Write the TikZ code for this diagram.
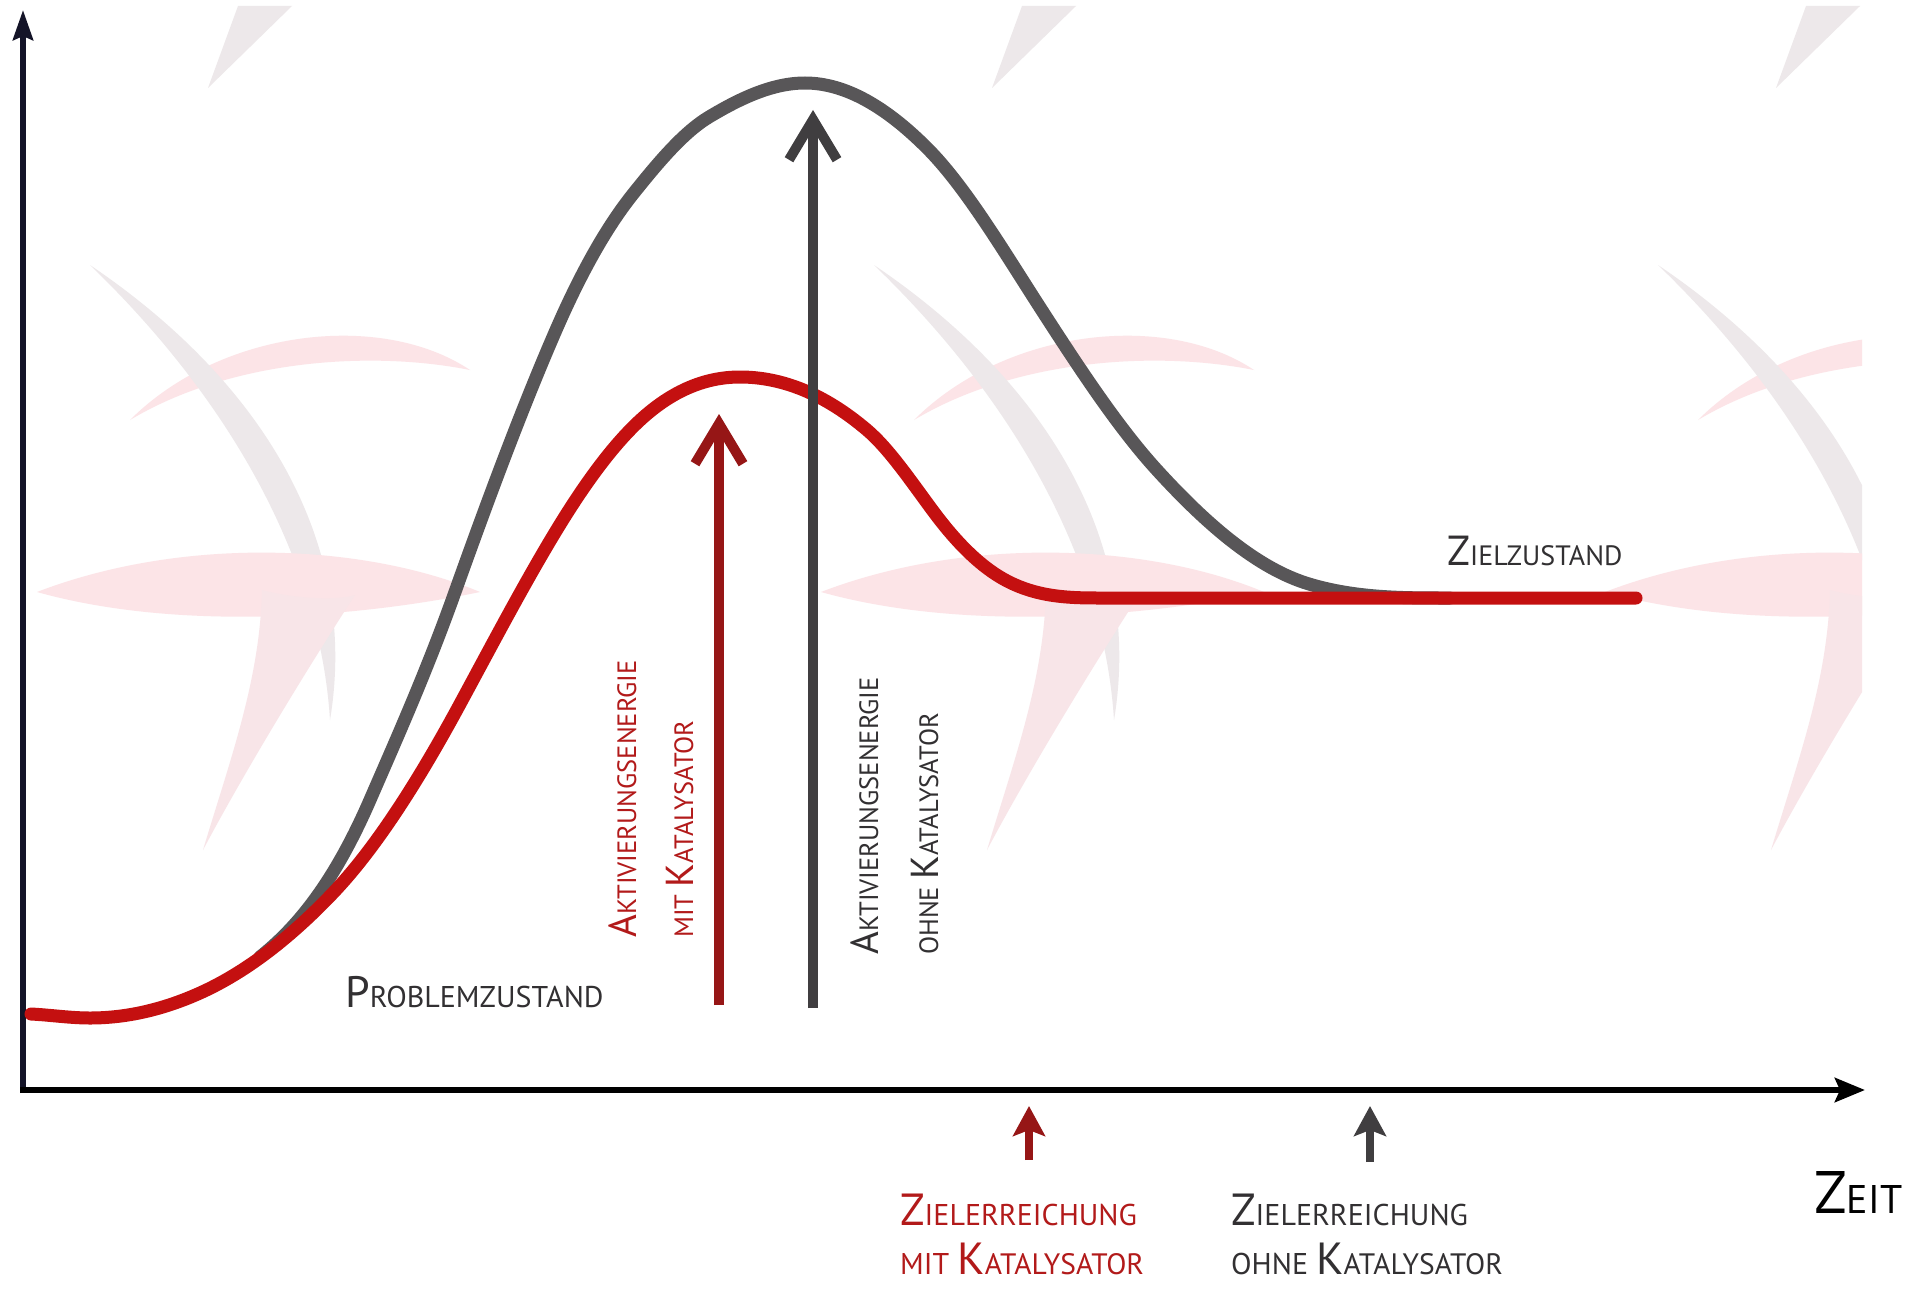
\documentclass[tikz,border=0pt]{standalone}
\usepackage{fontspec}
\setmainfont{PT Sans}
\usetikzlibrary{arrows.meta}
\definecolor{cRed}{RGB}{196,16,16}
\definecolor{cRedDark}{RGB}{150,22,22}
\definecolor{cRedText}{RGB}{178,26,26}
\definecolor{cGrey}{RGB}{88,86,88}
\definecolor{cGreyDark}{RGB}{64,62,64}
\definecolor{cText}{RGB}{50,48,50}
\definecolor{cAxisY}{RGB}{20,20,40}
\definecolor{wmPink}{RGB}{252,228,231}
\definecolor{wmGrey}{RGB}{237,232,234}
\newcommand{\mySC}[4]{{\fontsize{#1}{#1}\selectfont #3}{\fontsize{#2}{#2}\selectfont #4}}
\newcommand{\wmTile}{%
  \fill[wmGrey] (208,88) -- (238,6) -- (292,6) -- cycle;
  \fill[wmPink] (130,420) .. controls (220,330) and (380,310) .. (470,370) .. controls (370,350) and (230,360) .. (130,420) -- cycle;
  \fill[wmGrey] (90,265) .. controls (260,380) and (360,540) .. (330,720) .. controls (320,560) and (230,400) .. (90,265) -- cycle;
  \fill[wmPink] (37,592) .. controls (180,537) and (360,542) .. (480,592) .. controls (360,617) and (180,632) .. (37,592) -- cycle;
  \fill[wmPink!70!wmGrey] (262,590) .. controls (300,600) and (340,600) .. (355,595) .. controls (300,680) and (240,780) .. (203,850) .. controls (230,760) and (260,680) .. (262,590) -- cycle;
}
\begin{document}
\begin{tikzpicture}[x=1pt,y=-1pt,
  lbl/.style={inner sep=0pt, anchor=base west},
  vlbl/.style={inner sep=0pt, anchor=base west, rotate=90},
  curve/.style={line width=13pt, line cap=round, line join=round},
  bigarrow/.style={line width=10pt, -{Straight Barb[length=40pt,width=48pt]}},
  smallarrow/.style={line width=8pt, -{Stealth[length=30pt,width=32pt,inset=6pt]}}]
\useasboundingbox (0,0) rectangle (1921,1295);
\fill[white] (0,0) rectangle (1921,1295);
% faint background watermark
\begin{scope}
\clip (0,0) rectangle (1862,1295);
\foreach \k in {0,1,2} {
  \begin{scope}[shift={(784*\k,0)}]
    \wmTile
  \end{scope}
}
\end{scope}
% axes
\coordinate (Ytop) at (23,10);
\coordinate (Xend) at (1865,1090);
\coordinate (Ybot) at (23,1093);
\coordinate (Xbeg) at (20,1090);
\draw[line width=6pt, cAxisY, -{Stealth[length=30pt,width=20pt,inset=4pt]}] (Ybot) -- (Ytop);
\draw[line width=6.5pt, black, -{Stealth[length=30pt,width=24pt,inset=5pt]}] (Xbeg) -- (Xend);
% grey curve (ohne Katalysator)
\draw[curve, cGrey] (260,957)
  .. controls (296.67,927.7) and (333.33,884.3) .. (370,800)
  .. controls (398.33,734.8) and (426.67,671.3) .. (455,592)
  .. controls (488.67,497.7) and (522.33,407.4) .. (556,330)
  .. controls (581.67,271) and (607.33,226.1) .. (633,194)
  .. controls (658.33,162.3) and (683.67,132.2) .. (709,117)
  .. controls (741,97.8) and (773,83) .. (805,83)
  .. controls (845.67,83) and (886.33,107.3) .. (927,148)
  .. controls (965,186) and (1003,250.1) .. (1041,309)
  .. controls (1079.33,368.4) and (1117.67,426.8) .. (1156,469)
  .. controls (1207,525.1) and (1258,568.7) .. (1309,584)
  .. controls (1356,598.1) and (1403,598) .. (1450,598);
% red curve (mit Katalysator)
\draw[curve, cRed] (31,1014)
  .. controls (50.67,1015) and (70.33,1018) .. (90,1018)
  .. controls (126.67,1018) and (163.33,1009.5) .. (200,993)
  .. controls (244.33,973.05) and (288.67,939.55) .. (333,893)
  .. controls (375.33,848.55) and (417.67,782.3) .. (460,704)
  .. controls (492,644.8) and (524,583.8) .. (556,531)
  .. controls (581.67,488.65) and (607.33,452.67) .. (633,427)
  .. controls (668.67,391.33) and (704.33,377) .. (740,377)
  .. controls (782.33,377) and (824.67,394) .. (867,430)
  .. controls (889,448.7) and (911,481.3) .. (933,511)
  .. controls (955.33,541.15) and (977.67,563.6) .. (1000,577)
  .. controls (1033.33,597) and (1066.67,598) .. (1100,598)
  -- (1636,598);
% vertical arrows
\coordinate (rA0) at (719,1005);
\coordinate (rA1) at (719,414);
\coordinate (gA0) at (813,1008);
\coordinate (gA1) at (813,110);
\draw[bigarrow, cRedDark] (rA0) -- (rA1);
\draw[bigarrow, cGreyDark] (gA0) -- (gA1);
% small arrows on time axis
\coordinate (rS0) at (1029,1160);
\coordinate (rS1) at (1029,1106);
\coordinate (gS0) at (1370,1162);
\coordinate (gS1) at (1370,1106);
\draw[smallarrow, cRedDark] (rS0) -- (rS1);
\draw[smallarrow, cGreyDark] (gS0) -- (gS1);
% labels
\node[lbl, text=cText] (problem) at (345,1007) {\mySC{44}{30}{P}{ROBLEMZUSTAND}};
\node[lbl, text=cText] (ziel) at (1447,565) {\mySC{42}{28}{Z}{IELZUSTAND}};
\node[lbl, text=black] (zeit) at (1814,1213) {\mySC{60}{40}{Z}{EIT}};
\node[vlbl, text=cRedText] (aktR1) at (636,938) {\mySC{39}{26.5}{A}{KTIVIERUNGSENERGIE}};
\node[vlbl, text=cRedText] (aktR2) at (693,938) {\mySC{39}{26.5}{}{MIT }\mySC{39}{26.5}{K}{ATALYSATOR}};
\node[vlbl, text=cText] (aktG1) at (878,955) {\mySC{39}{26.5}{A}{KTIVIERUNGSENERGIE}};
\node[vlbl, text=cText] (aktG2) at (938,955) {\mySC{39}{26.5}{}{OHNE }\mySC{39}{26.5}{K}{ATALYSATOR}};
\node[lbl, text=cRedText] (zerR1) at (900,1225) {\mySC{45}{30}{Z}{IELERREICHUNG}};
\node[lbl, text=cRedText] (zerR2) at (900,1274) {\mySC{45}{30}{}{MIT }\mySC{45}{29.5}{K}{ATALYSATOR}};
\node[lbl, text=cText] (zerG1) at (1231,1225) {\mySC{45}{30}{Z}{IELERREICHUNG}};
\node[lbl, text=cText] (zerG2) at (1231,1274) {\mySC{45}{30}{}{OHNE }\mySC{45}{29.5}{K}{ATALYSATOR}};
\end{tikzpicture}
\end{document}
